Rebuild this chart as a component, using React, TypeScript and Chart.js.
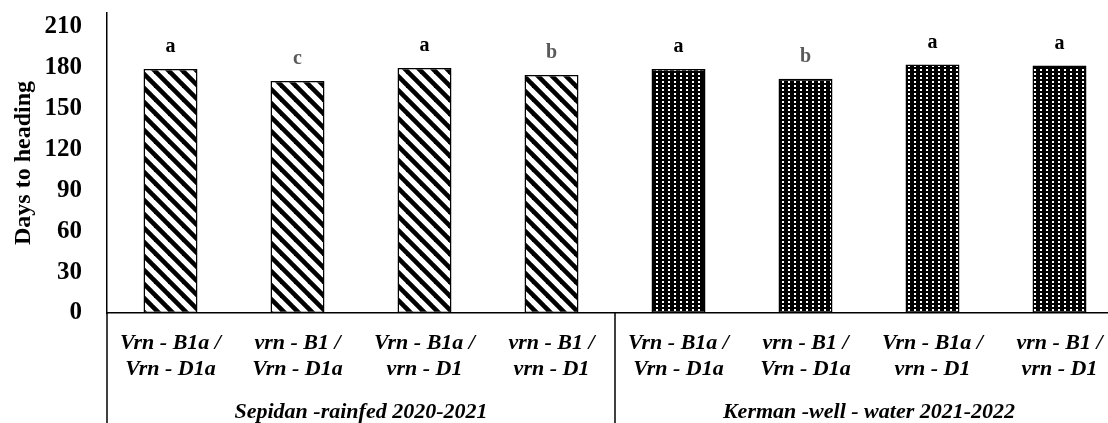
import React, { useEffect, useRef } from "react";
import { Chart, registerables } from "chart.js";
Chart.register(...registerables);

const categories: string[][] = [
  ["Vrn - B1a /", "Vrn - D1a"],
  ["vrn - B1 /", "Vrn - D1a"],
  ["Vrn - B1a /", "vrn - D1"],
  ["vrn - B1 /", "vrn - D1"],
  ["Vrn - B1a /", "Vrn - D1a"],
  ["vrn - B1 /", "Vrn - D1a"],
  ["Vrn - B1a /", "vrn - D1"],
  ["vrn - B1 /", "vrn - D1"],
];
const groups = ["Sepidan -rainfed 2020-2021", "Kerman -well - water 2021-2022"];
const groupSizes = [4, 4];
const daysToHeading = [178.9, 170.1, 179.6, 174.5, 178.9, 171.8, 182.3, 181.5];
const letters = ["a", "c", "a", "b", "a", "b", "a", "a"];
const yTicks = [0, 30, 60, 90, 120, 150, 180, 210];
const yMax = 220;
const yTitle = "Days to heading";

const FONT = '"Liberation Serif", "Times New Roman", serif';

function stripePattern(): CanvasPattern | string {
  const s = 14;
  const c = document.createElement("canvas");
  c.width = s;
  c.height = s;
  const g = c.getContext("2d")!;
  g.fillStyle = "#fff";
  g.fillRect(0, 0, s, s);
  g.strokeStyle = "#000";
  g.lineWidth = 4.6;
  for (const x0 of [-s, 0, s]) {
    g.beginPath();
    g.moveTo(x0 - 2, -2);
    g.lineTo(x0 + s + 2, s + 2);
    g.stroke();
  }
  return g.createPattern(c, "repeat") || "#000";
}

function dotPattern(): CanvasPattern | string {
  const c = document.createElement("canvas");
  c.width = 6;
  c.height = 4;
  const g = c.getContext("2d")!;
  g.fillStyle = "#000";
  g.fillRect(0, 0, 6, 4);
  g.fillStyle = "#fff";
  g.fillRect(2, 1, 2, 2);
  return g.createPattern(c, "repeat") || "#000";
}

export default function App() {
  const ref = useRef<HTMLCanvasElement>(null);
  useEffect(() => {
    if (!ref.current) return;
    const stripes = stripePattern();
    const dots = dotPattern();
    const fills = daysToHeading.map((_, i) => (i < groupSizes[0] ? stripes : dots));

    const overlay = {
      id: "overlay",
      afterDatasetsDraw(chart: any) {
        const ctx = chart.ctx;
        const meta = chart.getDatasetMeta(0);
        ctx.save();
        ctx.font = `bold 20px ${FONT}`;
        ctx.textAlign = "center";
        ctx.textBaseline = "middle";
        meta.data.forEach((bar: any, i: number) => {
          ctx.fillStyle = letters[i] === "a" ? "#000" : "#595959";
          ctx.fillText(letters[i], bar.x, bar.y - 22);
        });
        ctx.restore();
      },
      afterDraw(chart: any) {
        const ctx = chart.ctx;
        const xs = chart.scales.x;
        const ca = chart.chartArea;
        const step = xs.getPixelForValue(1) - xs.getPixelForValue(0);
        ctx.save();
        ctx.fillStyle = "#000";
        ctx.font = `bold 24px ${FONT}`;
        ctx.textAlign = "center";
        ctx.textBaseline = "middle";
        ctx.translate(24, (ca.top + ca.bottom) / 2);
        ctx.rotate(-Math.PI / 2);
        ctx.fillText(yTitle, 0, 0);
        ctx.restore();

        ctx.save();
        ctx.strokeStyle = "#000";
        ctx.lineWidth = 1.5;
        let start = 0;
        const bounds: number[] = [];
        groupSizes.forEach((n) => {
          bounds.push(xs.getPixelForValue(start) - step / 2);
          start += n;
        });
        bounds.push(xs.getPixelForValue(start - 1) + step / 2);
        bounds.forEach((bx) => {
          ctx.beginPath();
          ctx.moveTo(bx, ca.bottom);
          ctx.lineTo(bx, chart.height);
          ctx.stroke();
        });
        ctx.fillStyle = "#000";
        ctx.font = `italic bold 22px ${FONT}`;
        ctx.textAlign = "center";
        ctx.textBaseline = "middle";
        groups.forEach((gname, gi) => {
          ctx.fillText(gname, (bounds[gi] + bounds[gi + 1]) / 2, 412);
        });
        ctx.restore();
      },
    };

    const chart = new Chart(ref.current, {
      type: "bar",
      data: {
        labels: categories,
        datasets: [
          {
            data: daysToHeading,
            backgroundColor: fills as any,
            borderColor: "#000",
            borderWidth: 1.5,
            borderSkipped: false,
            categoryPercentage: 1,
            barPercentage: 0.425,
          },
        ],
      },
      options: {
        animation: false,
        responsive: false,
        maintainAspectRatio: false,
        devicePixelRatio: 1,
        layout: { padding: { top: 13, right: 3, left: 0, bottom: 0 } },
        plugins: { legend: { display: false }, tooltip: { enabled: false } },
        scales: {
          x: {
            offset: true,
            grid: { display: false, drawTicks: false },
            border: { display: true, color: "#000", width: 1.5 },
            ticks: {
              autoSkip: false,
              maxRotation: 0,
              minRotation: 0,
              padding: 18,
              color: "#000",
              font: { family: FONT, size: 22, style: "italic", weight: "bold", lineHeight: 1.15 },
            },
            afterFit: (s: any) => {
              s.height = 110;
              s.paddingLeft = 0;
              s.paddingRight = 0;
            },
          },
          y: {
            min: 0,
            max: yMax,
            grid: { display: false, drawTicks: false },
            border: { display: true, color: "#000", width: 1.5 },
            ticks: {
              padding: 25,
              color: "#000",
              font: { family: FONT, size: 25, weight: "bold" },
            },
            afterBuildTicks: (s: any) => {
              s.ticks = yTicks.map((v) => ({ value: v }));
            },
            afterFit: (s: any) => {
              s.width = 107;
              s.paddingTop = 0;
              s.paddingBottom = 0;
            },
          },
        },
      },
      plugins: [overlay],
    });
    return () => chart.destroy();
  }, []);

  return (
    <div
      style={{
        position: "absolute",
        left: 0,
        top: 0,
        width: 1108,
        height: 423,
        overflow: "hidden",
        background: "#fff",
      }}
    >
      <canvas ref={ref} width={1126} height={423} style={{ display: "block" }} />
    </div>
  );
}
